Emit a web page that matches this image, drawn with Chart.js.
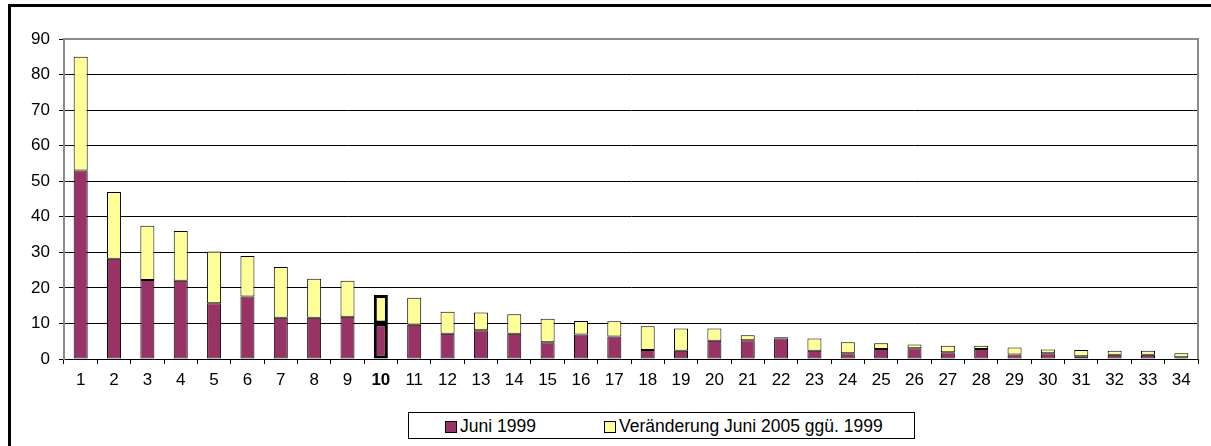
<!DOCTYPE html>
<html>
<head>
<meta charset="utf-8">
<script src="https://cdn.jsdelivr.net/npm/chart.js@4"></script>
<style>
  html, body { margin: 0; padding: 0; background: #fff; }
  #wrap { position: relative; width: 1211px; height: 446px; overflow: hidden; font-family: "Liberation Sans", Arial, sans-serif; }
  #frame { position: absolute; left: 8px; top: 4px; width: 1300px; height: 500px; border: 3px solid #000; box-sizing: border-box; }
  #myChart { position: absolute; left: 0; top: 0; }
  #legend { position: absolute; left: 408px; top: 412px; width: 507px; height: 27px; border: 1px solid #000; box-sizing: border-box; background: #fff; font-size: 17.5px; }
  .item { position: absolute; top: 3px; white-space: nowrap; line-height: 20px; }
  .sw { display: inline-block; width: 10px; height: 10px; border: 1px solid #000; margin-right: 3px; vertical-align: -1px; }
</style>
</head>
<body>
<div id="wrap">
  <div id="frame"></div>
  <canvas id="myChart" width="1211" height="446"></canvas>
  <div id="legend"></div>
</div>
<script>
const categories = ["1","2","3","4","5","6","7","8","9","10","11","12","13","14","15","16","17","18","19","20","21","22","23","24","25","26","27","28","29","30","31","32","33","34"];
const juni1999 = [53, 28.2, 22.2, 22, 15.7, 17.6, 11.6, 11.6, 11.9, 10, 9.6, 7.1, 8.1, 7.1, 4.7, 6.9, 6.3, 2.5, 2.3, 5.1, 5.3, 5.8, 2.3, 1.6, 2.8, 3.0, 1.9, 2.8, 1.3, 1.6, 0.8, 1.2, 1.2, 0.5];
const veraenderung = [32, 18.8, 15.3, 14, 14.5, 11.4, 14.3, 11, 10.1, 8, 7.6, 6.2, 5, 5.5, 6.6, 3.8, 4.3, 6.7, 6.3, 3.5, 1.4, 0.3, 3.5, 3.1, 1.6, 1.1, 1.8, 0.9, 1.9, 1.1, 1.7, 1.1, 1.1, 1.1];
const seriesLabels = ["Juni 1999", "Veränderung Juni 2005 ggü. 1999"];
const seriesColors = ["#993366", "#FFFF99"];
const yTicks = [0, 10, 20, 30, 40, 50, 60, 70, 80, 90];
const highlightIndex = 9;

const FONT = "'Liberation Sans', Arial, sans-serif";
const borderWidths = categories.map((c, i) => i === highlightIndex ? 3 : 1);

// rand rechts der Zeichenfläche (grau wie oben)
const plotBorder = {
  id: 'plotBorder',
  afterDatasetsDraw(chart) {
    const { ctx, chartArea: a } = chart;
    ctx.save();
    ctx.strokeStyle = '#8c8c8c';
    ctx.lineWidth = 2;
    ctx.beginPath();
    ctx.moveTo(a.left, a.top);
    ctx.lineTo(a.right, a.top);
    ctx.lineTo(a.right, a.bottom);
    ctx.stroke();
    ctx.restore();
  }
};

const ctx = document.getElementById("myChart").getContext("2d");
new Chart(ctx, {
  type: 'bar',
  data: {
    labels: categories,
    datasets: [
      { label: seriesLabels[0], data: juni1999, backgroundColor: seriesColors[0], borderColor: '#000', borderWidth: borderWidths, borderSkipped: false, barPercentage: 0.42, categoryPercentage: 1 },
      { label: seriesLabels[1], data: veraenderung, backgroundColor: seriesColors[1], borderColor: '#000', borderWidth: borderWidths, borderSkipped: false, barPercentage: 0.42, categoryPercentage: 1 }
    ]
  },
  options: {
    responsive: false,
    animation: false,
    layout: { padding: { left: 0, right: 13, top: 39, bottom: 57 } },
    plugins: { legend: { display: false }, tooltip: { enabled: false } },
    scales: {
      x: {
        stacked: true,
        offset: true,
        grid: { display: true, drawOnChartArea: false, offset: true, tickLength: 5, color: '#000' },
        border: { color: '#000', width: 1 },
        ticks: {
          color: '#000', padding: 6, maxRotation: 0, autoSkip: false,
          font: (c) => ({ family: FONT, size: 17, weight: c.index === highlightIndex ? 'bold' : 'normal' })
        },
        afterFit(scale) { scale.height = 30; }
      },
      y: {
        stacked: true,
        min: 0, max: 90,
        afterBuildTicks(scale) { scale.ticks = yTicks.map(v => ({ value: v })); },
        grid: { color: '#000', lineWidth: 1, tickLength: 5, tickColor: '#000' },
        border: { color: '#8c8c8c', width: 2 },
        ticks: { color: '#000', padding: 9, font: { family: FONT, size: 17 } },
        afterFit(scale) { scale.width = 64; }
      }
    }
  },
  plugins: [plotBorder]
});

// legende
const legendEl = document.getElementById("legend");
const legendX = [36, 195];
seriesLabels.forEach((lab, i) => {
  const it = document.createElement("span");
  it.className = "item";
  it.style.left = legendX[i] + "px";
  it.innerHTML = `<span class="sw" style="background:${seriesColors[i]}"></span>${lab}`;
  legendEl.appendChild(it);
});
</script>
</body>
</html>
